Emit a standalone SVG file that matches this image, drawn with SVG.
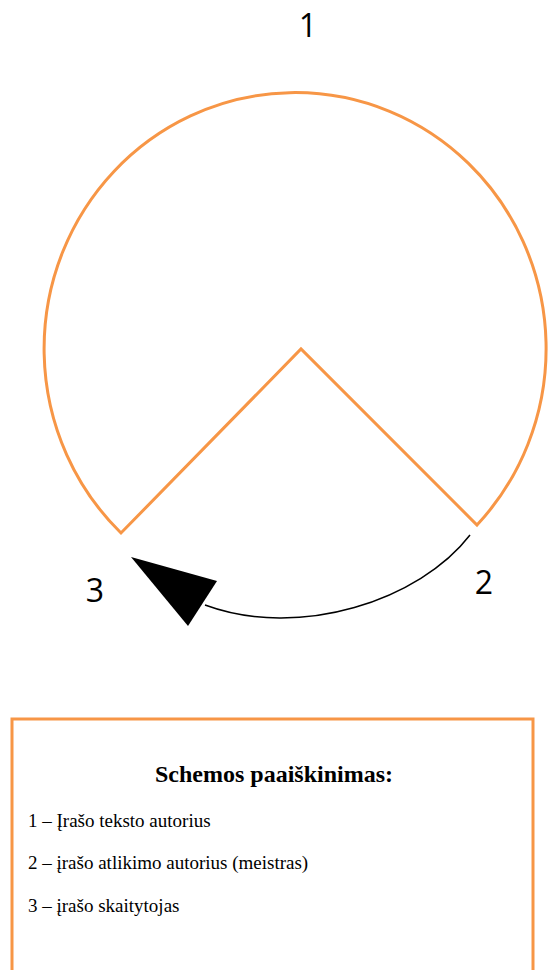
<svg xmlns="http://www.w3.org/2000/svg" width="550" height="970" viewBox="0 0 550 970">
<style>
.shape{fill:none;stroke:#F79646;stroke-width:3;stroke-linejoin:miter}
.num{font-family:"Open Sans","Liberation Sans",sans-serif;font-size:32px;fill:#000}
.ttl{font-family:"Liberation Serif",serif;font-size:24px;font-weight:bold;fill:#000}
.item{font-family:"Liberation Serif",serif;font-size:19px;fill:#000}
</style>
<rect width="550" height="970" fill="#fff"/>
<g id="node-pie">
<path class="shape" d="M 121 533 A 251 256 0 1 1 477 525 L 301 349 Z"/>
</g>
<g id="label-1"><text class="num" x="308" y="37" text-anchor="middle">1</text></g>
<g id="label-2"><text class="num" x="484" y="594" text-anchor="middle">2</text></g>
<g id="label-3"><text class="num" x="95" y="602" text-anchor="middle">3</text></g>
<g id="connectors">
<path d="M 470 535 C 420 600 300 640 205 605" fill="none" stroke="#000" stroke-width="1.5"/>
<polygon points="131,557 217,581 188,626" fill="#000"/>
</g>
<g id="legend">
<rect x="12" y="719" width="521" height="270" fill="none" stroke="#F79646" stroke-width="3"/>
<text class="ttl" x="274" y="782" text-anchor="middle">Schemos paaiškinimas:</text>
<text class="item" x="28" y="827">1 – Įrašo teksto autorius</text>
<text class="item" x="28" y="869">2 – įrašo atlikimo autorius (meistras)</text>
<text class="item" x="28" y="912">3 – įrašo skaitytojas</text>
</g>
</svg>
